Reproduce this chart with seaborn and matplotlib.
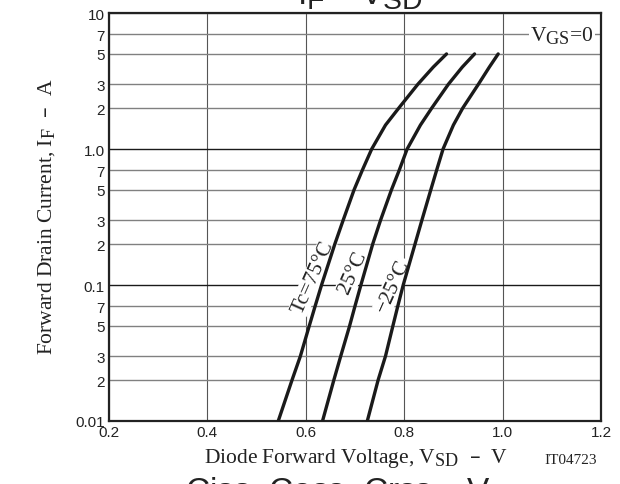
import numpy as np
import pandas as pd
import matplotlib
matplotlib.use("Agg")
import matplotlib.pyplot as plt
import matplotlib._mathtext as mathtext
from matplotlib.ticker import NullLocator
import seaborn as sns

# the datasheet uses big subscripts
mathtext.SHRINK_FACTOR = 0.85

# values (current in A, voltage in V)
current = [0.01, 0.02, 0.03, 0.05, 0.07, 0.1, 0.2, 0.3, 0.5, 0.7, 1.0, 1.5, 2.0, 3.0, 4.0, 5.0]
v_75 = [0.544, 0.572, 0.589, 0.607, 0.619, 0.632, 0.659, 0.676, 0.698, 0.715, 0.734, 0.762, 0.789, 0.828, 0.859, 0.886]
v_25 = [0.634, 0.657, 0.671, 0.689, 0.700, 0.712, 0.736, 0.752, 0.774, 0.790, 0.806, 0.833, 0.856, 0.890, 0.918, 0.943]
v_m25 = [0.725, 0.747, 0.762, 0.777, 0.787, 0.798, 0.822, 0.836, 0.854, 0.866, 0.879, 0.900, 0.919, 0.951, 0.973, 0.991]

series_names = ["Tc=75°C", "25°C", "−25°C"]
label_pos = [(0.615, 0.1145), (0.696, 0.125), (0.777, 0.100)]

x_ticks = [0.2, 0.4, 0.6, 0.8, 1.0, 1.2]
x_labels = ["0.2", "0.4", "0.6", "0.8", "1.0", "1.2"]
y_ticks = [0.01, 0.02, 0.03, 0.05, 0.07, 0.1, 0.2, 0.3, 0.5, 0.7, 1.0, 2, 3, 5, 7, 10]
y_labels = ["0.01", "2", "3", "5", "7", "0.1", "2", "3", "5", "7", "1.0", "2", "3", "5", "7", "10"]

sns.set_style("white")
plt.rcParams.update({
    "font.family": ["Liberation Serif", "DejaVu Serif"],
    "mathtext.default": "regular",
})

df = pd.concat([
    pd.DataFrame({"V": v, "I": current, "Tc": name})
    for v, name in zip([v_75, v_25, v_m25], series_names)
])

fig = plt.figure(figsize=(6.2, 4.85), dpi=100)
ax = fig.add_axes([109 / 620, 1 - 422 / 485, 492 / 620, 408 / 485])

sns.lineplot(data=df, x="V", y="I", hue="Tc", units="Tc", estimator=None,
             palette=["#1a1a1a"] * 3, linewidth=2.4, legend=False, ax=ax, zorder=5)

ax.set_yscale("log")
ax.set_xlim(0.2, 1.2)
ax.set_ylim(0.01, 10)
ax.set_xticks(x_ticks, x_labels)
ax.set_yticks(y_ticks, y_labels)
ax.yaxis.set_minor_locator(NullLocator())
ax.tick_params(length=0, labelsize=11, pad=3)
for t in ax.get_xticklabels() + ax.get_yticklabels():
    t.set_fontfamily("Liberation Sans")
    t.set_color("#222222")

ax.grid(True, color="#808080", linewidth=1.0)
for line, val in zip(ax.get_ygridlines(), y_ticks):
    if val in (0.1, 1.0):
        line.set_color("#1a1a1a")
        line.set_linewidth(1.0)
for line in ax.get_xgridlines():
    line.set_color("#555555")
    line.set_linewidth(0.8)

for sp in ax.spines.values():
    sp.set_color("#222222")
    sp.set_linewidth(1.6)

ax.set_xlabel("")
ax.set_ylabel("")

for name, (x, y) in zip(series_names, label_pos):
    ax.text(x, y, name, rotation=66, ha="center", va="center", fontsize=15.5,
            color="#222222", zorder=4,
            bbox=dict(facecolor="white", edgecolor="none", pad=0.5))

ax.text(1.121, 7, r"V$_{GS}$=0", ha="center", va="center", fontsize=15.5,
        color="#222222", zorder=4,
        bbox=dict(facecolor="white", edgecolor="none", pad=1.0))

fig.text(356 / 620, 1 - 459 / 485, r"Diode Forward Voltage, V$_{SD}$  –  V",
         ha="center", va="center", fontsize=15.5, color="#222222")
fig.text(571 / 620, 1 - 461 / 485, "IT04723", ha="center", va="center",
         fontsize=11, color="#222222")
fig.text(47 / 620, 1 - 217 / 485, r"Forward Drain Current, I$_F$  –  A",
         ha="center", va="center", rotation=90, fontsize=15.5, color="#222222")

# cropped captions of the neighbouring charts
fig.text(360 / 620, 1 - 5 / 485, r"I$_F$ – V$_{SD}$", ha="center", va="baseline",
         fontsize=24, family="Liberation Sans", color="#222222")
fig.text(357 / 620, 1 - 476 / 485, r"Ciss, Coss, Crss – V$_{DS}$", ha="center", va="top",
         fontsize=24, family="Liberation Sans", color="#222222")

fig.savefig("out.png", dpi=100)
